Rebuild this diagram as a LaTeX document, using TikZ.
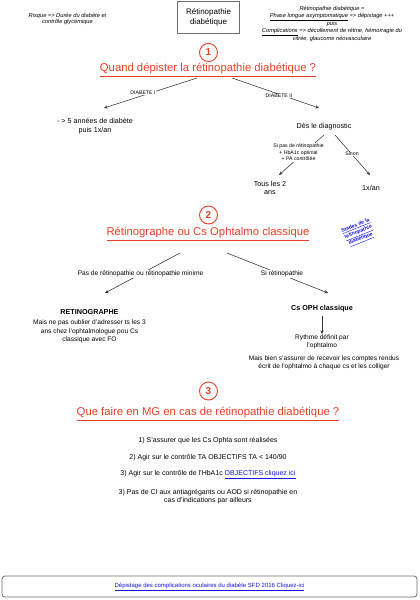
\documentclass[tikz,border=0pt]{standalone}
\usepackage{fontspec}
\setmainfont{Liberation Sans}
\usetikzlibrary{arrows.meta}
\definecolor{myred}{RGB}{230,62,40}
\definecolor{mylink}{RGB}{20,20,230}
\definecolor{mygray}{RGB}{110,110,110}
\begin{document}
\begin{tikzpicture}[x=1pt,y=-1pt,
  every node/.style={inner sep=0.5pt, align=center, text=black},
  txt/.style={font=\fontsize{7.2}{8.6}\selectfont},
  small/.style={font=\fontsize{6.6}{8.3}\selectfont},
  tiny/.style={font=\fontsize{5.2}{6.6}\selectfont, fill=white},
  lbl/.style={font=\fontsize{6.6}{8}\selectfont, fill=white},
  note/.style={font=\fontsize{5.7}{6.7}\selectfont\itshape},
  boldtxt/.style={font=\fontsize{7.2}{8.6}\selectfont\bfseries},
  title/.style={font=\fontsize{11.3}{13}\selectfont, text=myred},
  numc/.style={circle, draw=myred, line width=0.9pt, minimum size=18pt, inner sep=0pt, text=myred, font=\fontsize{10}{12}\selectfont\bfseries},
  conn/.style={draw=black!80, line width=0.55pt, -{Stealth[length=3.6pt,width=3.2pt]}},
  listtxt/.style={font=\fontsize{7}{8.4}\selectfont},
]
\useasboundingbox[fill=white] (0,0) rectangle (420,600);

% header
\node[draw=mygray, line width=0.7pt, minimum width=62pt, minimum height=32pt, font=\fontsize{8}{10}\selectfont] (top) at (208.5,17) {Rétinopathie\\diabétique};
\node[note] (risk) at (67.5,19) {Risque => Durée du diabète et\\contrôle glycémique};
\node[note] (rdesc) at (332,24) {Rétinopathie diabétique =\\\underline{Phase longue asymptomatique} => dépistage +++\\puis\\\underline{Complications} => décollement de rétine, hémorragie du\\vitrée, glaucome néovasculaire};

% section 1
\node[numc] (c1) at (208.5,52.5) {1};
\node[title] (t1) at (208,70) {\underline{Quand dépister la rétinopathie diabétique ?}};
\coordinate (s1l) at (197,78);
\coordinate (e1l) at (104,108);
\coordinate (s1r) at (232,78);
\coordinate (e1r) at (319,108);
\draw[conn] (s1l) -- (e1l);
\draw[conn] (s1r) -- (e1r);
\node[tiny] (d1) at (143,93) {DIABETE I};
\node[tiny] (d2) at (279,96) {DIABETE II};
\node[txt] (dt1) at (95,126) {- > 5 années de diabète\\puis 1x/an};
\node[txt] (diag) at (324,127) {Dès le diagnostic};
\coordinate (s2l) at (324,135);
\coordinate (e2l) at (279,175);
\coordinate (s2r) at (335,135);
\coordinate (e2r) at (370,175);
\draw[conn] (s2l) -- (e2l);
\draw[conn] (s2r) -- (e2r);
\node[tiny] (cond) at (298.5,152.5) {Si pas de rétinopathie\\+ HbA1c optimal\\+ PA contrôlée};
\node[tiny] (sinon) at (352,154) {Sinon};
\node[txt] (tous) at (270,188) {Tous les 2\\ans};
\node[txt] (an) at (371,188) {1x/an};

% section 2
\node[numc] (c2) at (208.5,215) {2};
\node[title] (t2) at (208,234) {\underline{Rétinographe ou Cs Ophtalmo classique}};
\node[rotate=22, text=mylink, font=\fontsize{5.1}{7}\selectfont\bfseries] (stades) at (358.5,233) {\underline{Stades de la}\\\underline{rétinopathie}\\\underline{diabétique}};
\coordinate (s3l) at (180,253);
\coordinate (e3l) at (105,293);
\coordinate (s3r) at (227,253);
\coordinate (e3r) at (328,293);
\draw[conn] (s3l) -- (e3l);
\draw[conn] (s3r) -- (e3r);
\node[lbl] (pasr) at (140.5,274) {Pas de rétinopathie ou rétinopathie minime};
\node[lbl] (sir) at (282,274) {Si rétinopathie};
\node[boldtxt] (retino) at (89.5,312) {RETINOGRAPHE};
\node[small] (mais1) at (89.5,331.5) {Mais ne pas oublier d'adresser ts les 3\\ans chez l'ophtalmologue pou Cs\\classique avec FO};
\node[boldtxt] (csoph) at (322,309) {Cs OPH classique};
\node[small] (rythme) at (322,342) {Rythme définit par\\l'ophtalmo};
\draw[conn] (csoph.south) ++(0,3) coordinate (s4) (s4) -- (rythme.north);
\node[small] (mais2) at (324,363) {Mais bien s'assurer de recevoir les comptes rendus\\écrit de l'ophtalmo à chaque cs et les colliger};

% section 3
\node[numc] (c3) at (208.5,391) {3};
\node[title] (t3) at (208,414) {\underline{Que faire en MG en cas de rétinopathie diabétique ?}};
\node[listtxt] (l1) at (208,441) {1) S'assurer que les Cs Ophta sont réalisées};
\node[listtxt] (l2) at (208,458) {2) Agir sur le contrôle TA OBJECTIFS TA < 140/90};
\node[listtxt] (l3) at (208,475) {3) Agir sur le contrôle de l'HbA1c \textcolor{mylink}{\underline{OBJECTIFS cliquez ici}}};
\node[listtxt] (l4) at (208,496.5) {3) Pas de CI aux antiagrégants ou AOD si rétinopathie en\\cas d'indications par ailleurs};

% bottom box
\node[draw=mygray, line width=0.8pt, rounded corners=3pt, minimum width=415pt, minimum height=21pt, font=\fontsize{6}{7}\selectfont, text=mylink] (bottom) at (209.5,586.5) {\underline{Dépistage des complications oculaires du diabète SFD 2016 Cliquez-ici}};
\end{tikzpicture}
\end{document}
